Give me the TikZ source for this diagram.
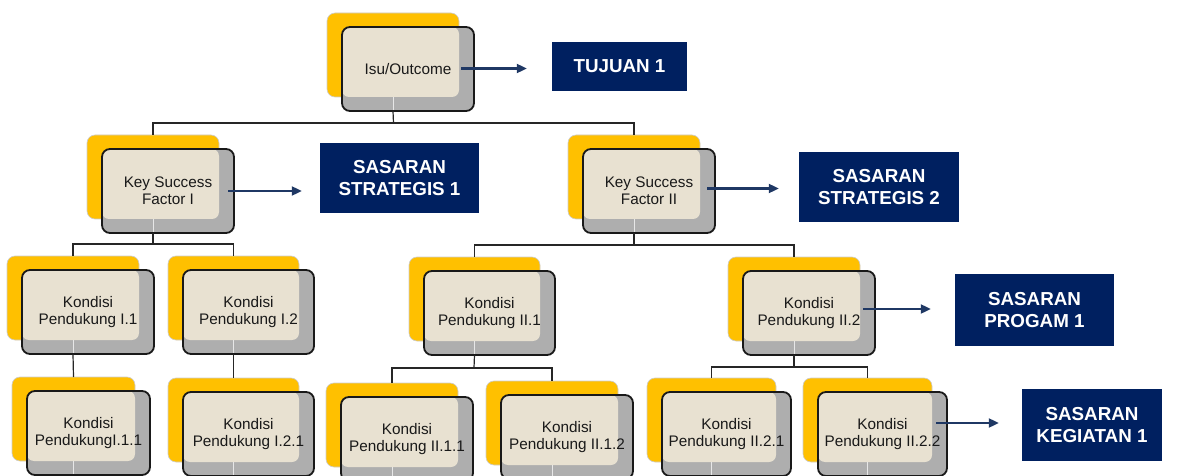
\documentclass[tikz,border=0pt]{standalone}
\usepackage{fontspec}
\setmainfont{Liberation Sans}
\usetikzlibrary{arrows.meta,calc}
\definecolor{ylw}{HTML}{FFC000}
\definecolor{gry}{HTML}{AEAEAE}
\definecolor{bge}{HTML}{E8E1D1}
\definecolor{navy}{HTML}{002060}
\definecolor{arrc}{HTML}{1F3864}
\tikzset{
  ybox/.style={fill=ylw, draw=black!20, line width=0.6pt, rounded corners=8pt, minimum height=84pt, inner sep=0pt, outer sep=0pt},
  gfill/.style={fill=gry, rounded corners=8pt, minimum height=84pt, inner sep=0pt, outer sep=0pt},
  gframe/.style={draw=black!90, line width=1.8pt, rounded corners=8pt, minimum height=84pt, inner sep=0pt, outer sep=0pt, align=center, text=black!90, font=\fontsize{15.3}{17}\selectfont},
  goal/.style={fill=navy, text=white, align=center, inner sep=0pt, font=\bfseries\fontsize{18.8}{21.5}\selectfont},
  conn/.style={draw=black!85, line width=1.2pt},
  arr/.style={draw=arrc, line width=2.1pt, -{Triangle[length=10pt,width=9pt]}, shorten >=12pt},
}
\newcommand\card[5]{%
  \node[ybox, minimum width=#4pt, anchor=north west] (#1-y) at (#2,#3) {};
  \node[gfill, minimum width=#4pt, anchor=north west] (#1-g) at (#2+15,#3+14) {};
  \fill[bge, rounded corners=7pt] (#1-g.north west) rectangle (#1-y.south east);
  \draw[white!70!gry, line width=0.9pt] (#1-y.south) -- (#1-y.south |- #1-g.south);
  \node[gframe, minimum width=#4pt, anchor=north west] (#1) at (#2+15,#3+14) {#5};
}
\begin{document}
\begin{tikzpicture}[x=1pt,y=-1pt]
\useasboundingbox (0,0) rectangle (1179,476);
\coordinate (bar1) at (393.5,123);
\coordinate (bar2) at (153,244);
\coordinate (bar3) at (634,245);
\coordinate (bar4) at (474,368);
\coordinate (bar5) at (794,367);
% cards
\card{top}{327}{13}{132}{Isu/Outcome}
\card{ksf1}{87}{135}{132}{Key Success\\Factor I}
\card{ksf2}{568}{135}{132}{Key Success\\Factor II}
\card{k11}{7}{256}{132}{Kondisi\\Pendukung I.1}
\card{k12}{168}{256}{131}{Kondisi\\Pendukung I.2}
\card{k21}{409}{257}{131}{Kondisi\\Pendukung II.1}
\card{k22}{728}{257}{132}{Kondisi\\Pendukung II.2}
\card{k111}{12}{377}{123}{Kondisi\\PendukungI.1.1}
\card{k121}{168}{378}{131}{Kondisi\\Pendukung I.2.1}
\card{k211}{326}{383}{132}{Kondisi\\Pendukung II.1.1}
\card{k212}{486}{381}{132}{Kondisi\\Pendukung II.1.2}
\card{k221}{647}{378}{129}{Kondisi\\Pendukung II.2.1}
\card{k222}{803}{378}{129}{Kondisi\\Pendukung II.2.2}
% tree connectors
\draw[conn] (top-y.south |- top.south) -- (bar1);
\draw[conn] (bar1) -| (ksf1-y.north);
\draw[conn] (bar1) -| (ksf2-y.north);
\draw[conn] (ksf1-y.south |- ksf1.south) -- (bar2);
\draw[conn] (bar2) -| (k11-y.north);
\draw[conn] (bar2) -| (k12-y.north);
\draw[conn] (ksf2-y.south |- ksf2.south) -- (bar3);
\draw[conn] (bar3) -| (k21-y.north);
\draw[conn] (bar3) -| (k22-y.north);
\draw[conn] (k11-y.south |- k11.south) -- (k111-y.north);
\draw[conn] (k12-y.south |- k12.south) -- (k121-y.north);
\draw[conn] (k21-y.south |- k21.south) -- (bar4);
\draw[conn] (bar4) -| (k211-y.north);
\draw[conn] (bar4) -| (k212-y.north);
\draw[conn] (k22-y.south |- k22.south) -- (bar5);
\draw[conn] (bar5) -| (k221-y.north);
\draw[conn] (bar5) -| (k222-y.north);
% goal boxes
\node[goal, minimum width=135pt, minimum height=49pt] (tuj) at (619.5,66.5) {TUJUAN 1};
\node[goal, minimum width=159pt, minimum height=70pt] (ss1) at (399.5,178) {SASARAN\\STRATEGIS 1};
\node[goal, minimum width=160pt, minimum height=70pt] (ss2) at (879,187) {SASARAN\\STRATEGIS 2};
\node[goal, minimum width=159pt, minimum height=72pt] (sp1) at (1034.5,310) {SASARAN\\PROGAM 1};
\node[goal, minimum width=140pt, minimum height=72pt] (sk1) at (1092,425) {SASARAN\\KEGIATAN 1};
% arrows
\draw[arr] ([xshift=-13pt,yshift=0.5pt]top.east) -- ([xshift=-13pt,yshift=0.5pt]top.east -| tuj.west);
\draw[arr] ([xshift=-6pt]ksf1.east) -- ([xshift=-6pt]ksf1.east -| ss1.west);
\draw[arr] ([xshift=-8pt,yshift=2.5pt]ksf2.east) -- ([xshift=-8pt,yshift=2.5pt]ksf2.east -| ss2.west);
\draw[arr] ([xshift=-12pt,yshift=4pt]k22.east) -- ([xshift=-12pt,yshift=4pt]k22.east -| sp1.west);
\draw[arr] ([xshift=-11pt,yshift=11pt]k222.east) -- ([xshift=-11pt,yshift=11pt]k222.east -| sk1.west);
\end{tikzpicture}
\end{document}
